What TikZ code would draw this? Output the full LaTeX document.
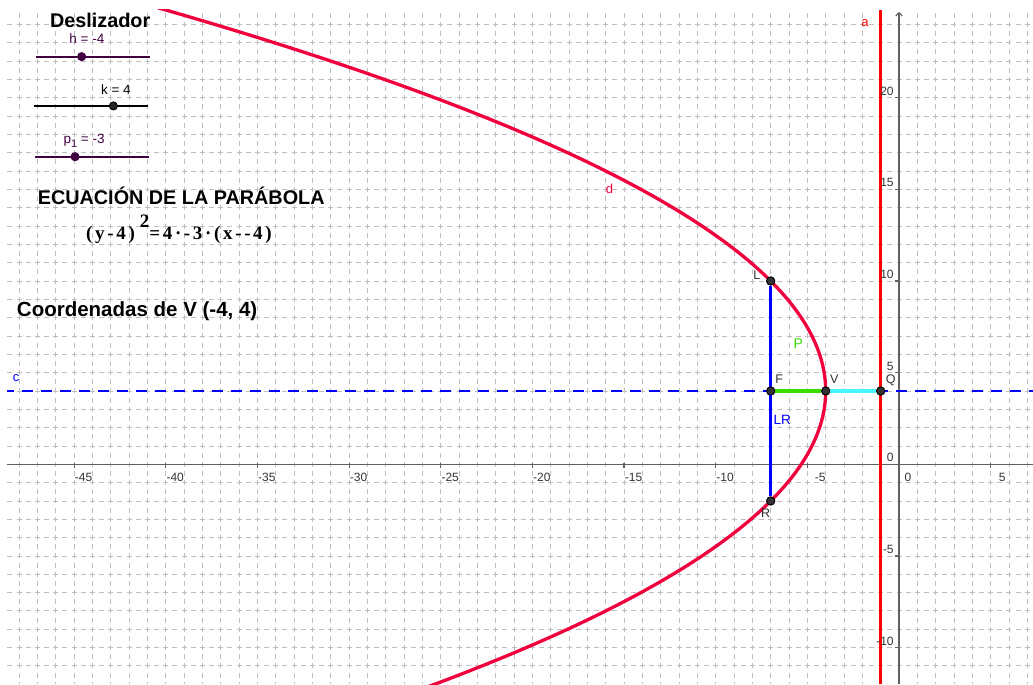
\documentclass[tikz,border=0pt]{standalone}
\usepackage{fontspec}
\setmainfont{Liberation Sans}
\newfontfamily\eqfont[LetterSpace=14]{Liberation Serif}
\usetikzlibrary{arrows.meta}

\definecolor{gridgray}{RGB}{190,190,190}
\definecolor{axisgray}{RGB}{96,96,96}
\definecolor{curvered}{RGB}{240,0,60}
\definecolor{dirred}{RGB}{255,0,0}
\definecolor{lrblue}{RGB}{0,0,255}
\definecolor{pgreen}{RGB}{60,220,0}
\definecolor{qcyan}{RGB}{70,245,255}
\definecolor{slidpurple}{RGB}{64,0,64}
\definecolor{labgray}{RGB}{51,51,51}

\newcommand{\fs}[1]{\fontsize{#1}{#1}\selectfont}

\begin{document}
\begin{tikzpicture}[x=18.33pt, y=18.33pt,
	every node/.style={inner sep=0pt, font=\fs{12}},
	gridline/.style={gridgray, line width=0.9pt, dash pattern=on 5pt off 4.165pt, dash phase=2.5pt},
	axisline/.style={axisgray, line width=1.1pt},
	axlab/.style={labgray, font=\fs{12}},
	ptlab/.style={labgray, font=\fs{12.5}},
	pt/.style={circle, fill=labgray, draw=black, line width=0.8pt, minimum size=8.2pt},
	slider/.style={line width=1.8pt},
	bigtext/.style={anchor=base west, font=\fs{19.8}\bfseries}]
	\useasboundingbox (-49.045,-11.986) rectangle (7.31,25.33);
	\begin{scope}
		\clip (-48.663,-11.986) rectangle (7.31,24.785);
		\foreach \i in {-48,...,7}
			\draw[gridline] (\i,-12) -- (\i,25);
		\foreach \j in {-11,...,24}
			\draw[gridline] (-49,\j) -- (8,\j);
		\draw[axisline] (-48.663,0) -- (7.31,0);
		\draw[axisline, -{Straight Barb[length=3.5pt, width=6.5pt]}] (0,-11.986) -- (0,24.69);
		\foreach \n in {-45,-40,...,-5,5}
			\draw[axisline] (\n,0.05) -- (\n,-0.22);
		\foreach \n in {-10,-5,5,10,15,20}
			\draw[axisline] (0,\n) -- (-0.2,\n);
		\draw[curvered, line width=3.3pt, domain=-12.5:25, samples=150, variable=\t]
			plot ({-4-(\t-4)^2/12}, \t);
		\coordinate (atop) at (-1,24.785);
		\coordinate (abot) at (-1,-11.986);
		\draw[dirred, line width=3.2pt] (atop) -- (abot);
		\coordinate (cleft) at (-48.663,4);
		\coordinate (cright) at (7.31,4);
		\draw[lrblue, line width=1.2pt, dash pattern=on 11pt off 8pt, dash phase=4pt] (cleft) -- (cright);
	\end{scope}
	\foreach \n in {-45,-40,...,-5}
		\node[axlab, anchor=east] (xl\n) at (\n+1.0,-0.69) {\n};
	\node[axlab] (xl0) at (0.49,-0.69) {0};
	\node[axlab, anchor=east] (xl5) at (5.83,-0.69) {5};
	\foreach \n in {-10,-5,...,20}
		\node[axlab, anchor=east] (yl\n) at (-0.28,\n+0.36) {\n};
	\node[pt] (L) at (-7,10) {};
	\node[pt] (F) at (-7,4) {};
	\node[pt] (V) at (-4,4) {};
	\node[pt] (Q) at (-1,4) {};
	\node[pt] (R) at (-7,-2) {};
	\draw[lrblue, line width=3.2pt] (L) -- (R);
	\draw[pgreen, line width=3.3pt] (F) -- (V);
	\draw[qcyan, line width=3.3pt] (V) -- (Q);
	\foreach \p in {L,F,V,Q,R}
		\node[pt] at (\p) {};
	\node[ptlab] (lblL) at (-7.76,10.33) {L};
	\node[ptlab] (lblF) at (-6.53,4.64) {F};
	\node[ptlab] (lblV) at (-3.53,4.64) {V};
	\node[ptlab] (lblQ) at (-0.45,4.60) {Q};
	\node[ptlab] (lblR) at (-7.27,-2.67) {R};
	\node[pgreen, font=\fs{14}] (lblP) at (-5.49,6.56) {P};
	\node[lrblue, font=\fs{13.5}] (lblLR) at (-6.37,2.45) {LR};
	\node[lrblue, font=\fs{13}] (lblc) at (-48.17,4.69) {c};
	\node[dirred, font=\fs{13}] (lbla) at (-1.85,24.06) {a};
	\node[curvered, font=\fs{13}] (lbld) at (-15.80,15.02) {d};
	\node[bigtext] (deslizador) at (-46.32,23.84) {Deslizador};
	\coordinate (h1) at (-47.08,22.24);
	\coordinate (h2) at (-40.86,22.24);
	\draw[slider, slidpurple] (h1) -- (h2);
	\node[pt, fill=slidpurple, draw=slidpurple] (hdot) at (-44.59,22.24) {};
	\node[anchor=base west, slidpurple, font=\fs{13.5}] (hlab) at (-45.27,22.97) {h = -4};
	\coordinate (k1) at (-47.19,19.55);
	\coordinate (k2) at (-40.99,19.55);
	\draw[slider, black] (k1) -- (k2);
	\node[pt, fill=black!85] (kdot) at (-42.86,19.55) {};
	\node[anchor=base west, font=\fs{13.5}] (klab) at (-43.54,20.19) {k = 4};
	\coordinate (p1) at (-47.14,16.78);
	\coordinate (p2) at (-40.92,16.78);
	\draw[slider, slidpurple] (p1) -- (p2);
	\node[pt, fill=slidpurple, draw=slidpurple] (pdot) at (-44.95,16.78) {};
	\node[anchor=base west, slidpurple, font=\fs{13.5}] (plab) at (-45.59,17.50) {p\raisebox{-3.5pt}{\fs{11}1} = -3};
	\node[bigtext] (ecuacion) at (-46.99,14.18) {ECUACIÓN DE LA PARÁBOLA};
	\node[anchor=base west, font=\fs{19}\eqfont\bfseries] (formula) at (-44.35,12.24) {(y-4)\hspace{5pt}\raisebox{12.5pt}{2}=4·-3·(x--4)};
	\node[bigtext, font=\fs{20.5}\bfseries] (coordv) at (-48.13,8.09) {Coordenadas de V (-4, 4)};
\end{tikzpicture}
\end{document}
